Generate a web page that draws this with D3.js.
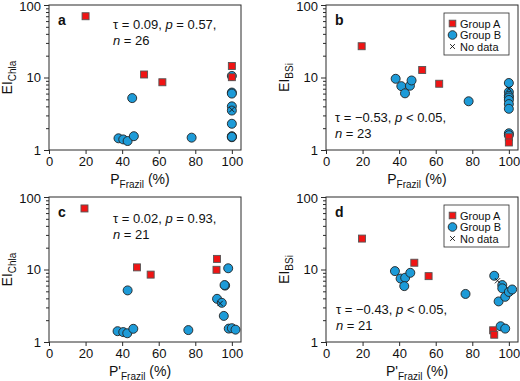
<!DOCTYPE html>
<html><head><meta charset="utf-8">
<script src="https://cdn.jsdelivr.net/npm/d3@7"></script>
<style>body{margin:0;background:#fff} svg{display:block;font-family:"Liberation Sans",Arial,Helvetica,sans-serif}</style>
</head><body><svg id="chart" width="520" height="381"></svg>
<script>
// ---- data ----
const xTicks = [0, 20, 40, 60, 80, 100];
const yTicks = [1, 10, 100];
const yMinorTicks = [2,3,4,5,6,7,8,9,20,30,40,50,60,70,80,90];
const legendLabels = ["Group A", "Group B", "No data"];

// panel a: P_Frazil vs EI_Chla
const aGroupA = [[20,70],[52,11],[62,8.6],[100,14.4],[100,10.1]];
const aGroupB = [[100,10.5],[45.5,5.2],[38,1.45],[40.6,1.40],[43,1.33],[46.4,1.55],[78,1.48],
                 [100,6.2],[100,6.0],[100,4.0],[100,3.5],[100,2.3],[100,1.55],[100,1.5],[100,1.52]];
const aNoData = [[100,3.6]];

// panel b: P_Frazil vs EI_BSi
const bGroupA = [[19.5,27],[52.6,12.7],[61.9,8.2],[100,1.5],[100,1.27]];
const bGroupB = [[38.1,9.6],[41.2,7.6],[43.2,6.05],[45.9,7.7],[46.8,9.1],[78,4.7],
                 [100,8.4],[100,6.3],[100,5.6],[100,5.3],[100,4.9],[100,4.3],[100,3.7],[100,1.7],[100,1.6]];
const bNoData = [[100,7.0]];

// panel c: P'_Frazil vs EI_Chla
const cGroupA = [[19.4,69.5],[48.1,10.7],[55.6,8.5],[91.9,14.0],[91.6,9.9]];
const cGroupB = [[43,5.15],[37.5,1.41],[40.6,1.37],[42.8,1.32],[46.1,1.52],[76.2,1.46],
                 [98,10.4],[96.3,6.0],[96,6.1],[91.9,3.94],[94.5,3.47],[95.6,2.29],[98.3,1.53],[100,1.55],[102,1.48]];
const cNoData = [[93.6,3.4]];

// panel d: P'_Frazil vs EI_BSi
const dGroupA = [[19.7,26.7],[48.3,12.4],[56.1,8.1],[91.4,1.45],[92,1.26]];
const dGroupB = [[37.7,9.5],[40.8,7.5],[43.3,7.7],[42.8,5.9],[46.1,9.0],[76.3,4.6],
                 [92,8.2],[96.4,6.1],[96.4,5.5],[94.4,3.63],[98,4.2],[100,4.9],[101.8,5.3],[95.5,1.65],[98,1.53]];
const dNoData = [[93.8,7.0]];

const statsTau = ["0.09", "\u22120.53", "0.02", "\u22120.43"];
const statsP = ["= 0.57", "< 0.05", "= 0.93", "< 0.05"];
const statsN = ["26", "23", "21", "21"];

// ---- layout ----
const colA = "#f01414", colB = "#1d9bd8";
const W = 192, H = 145;
const panels = [
  {label:"a", left:49, top:5, ySub:"Chla", prime:false, A:aGroupA, B:aGroupB, N:aNoData, s:0, sx:64, sy:24, legend:false},
  {label:"b", left:326, top:5, ySub:"BSi", prime:false, A:bGroupA, B:bGroupB, N:bNoData, s:1, sx:9, sy:117, legend:true},
  {label:"c", left:49, top:197, ySub:"Chla", prime:true, A:cGroupA, B:cGroupB, N:cNoData, s:2, sx:64, sy:26, legend:false},
  {label:"d", left:326, top:197, ySub:"BSi", prime:true, A:dGroupA, B:dGroupB, N:dNoData, s:3, sx:10, sy:117, legend:true}
];

const svg = d3.select("#chart");
const ink = "#2a2a2a";

function drawSquare(g, x, y, s) {
  g.append("rect").attr("x", x - s/2).attr("y", y - s/2).attr("width", s).attr("height", s)
    .attr("fill", colA).attr("stroke", "#555").attr("stroke-width", 0.9);
}
function drawCircle(g, x, y, r) {
  g.append("circle").attr("cx", x).attr("cy", y).attr("r", r)
    .attr("fill", colB).attr("stroke", "#222").attr("stroke-width", 0.9);
}
function drawCross(g, x, y, s) {
  g.append("path").attr("d", `M${x-s},${y-s}L${x+s},${y+s}M${x-s},${y+s}L${x+s},${y-s}`)
    .attr("stroke", "#111").attr("stroke-width", 0.9).attr("fill", "none");
}

panels.forEach(p => {
  const g = svg.append("g").attr("transform", `translate(${p.left},${p.top})`);
  const x = d3.scaleLinear().domain([0, 105]).range([0, W]);
  const y = d3.scaleLog().domain([1, 100]).range([H, 0]);

  // x axis
  const xa = g.append("g").attr("transform", `translate(0,${H})`)
    .call(d3.axisBottom(x).tickValues(xTicks).tickSize(4).tickPadding(3).tickFormat(d3.format("d")));
  xa.select(".domain").remove();
  xa.selectAll("line").attr("stroke", ink);
  xa.selectAll("text").attr("font-size", 13).attr("fill", "#111").attr("font-family", null);

  // y axis major
  const ya = g.append("g")
    .call(d3.axisLeft(y).tickValues(yTicks).tickSize(5).tickPadding(3).tickFormat(d3.format("d")));
  ya.select(".domain").remove();
  ya.selectAll("line").attr("stroke", ink);
  ya.selectAll("text").attr("font-size", 13).attr("fill", "#111").attr("font-family", null)
    .attr("dy", d => d === 100 ? "0.42em" : "0.32em");
  // y minor
  const ym = g.append("g")
    .call(d3.axisLeft(y).tickValues(yMinorTicks).tickSize(3).tickFormat(""));
  ym.select(".domain").remove();
  ym.selectAll("line").attr("stroke", ink);

  // frame
  g.append("rect").attr("width", W).attr("height", H)
    .attr("fill", "none").attr("stroke", ink).attr("stroke-width", 1);

  // points: circles, squares on top, then crosses
  p.B.forEach(d => drawCircle(g, x(d[0]), y(d[1]), 4.5));
  p.A.forEach(d => drawSquare(g, x(d[0]), y(d[1]), 7));
  p.N.forEach(d => drawCross(g, x(d[0]), y(d[1]), 2.6));

  // panel label
  g.append("text").attr("x", 9).attr("y", 20).attr("font-size", 14).attr("font-weight", "bold")
    .attr("fill", "#111").text(p.label);

  // stats
  const t1 = g.append("text").attr("x", p.sx).attr("y", p.sy).attr("font-size", 13).attr("fill", "#111");
  t1.append("tspan").text(`\u03c4 = ${statsTau[p.s]}, `);
  t1.append("tspan").attr("font-style", "italic").text("p");
  t1.append("tspan").text(` ${statsP[p.s]},`);
  const t2 = g.append("text").attr("x", p.sx).attr("y", p.sy + 15.5).attr("font-size", 13).attr("fill", "#111");
  t2.append("tspan").attr("font-style", "italic").text("n");
  t2.append("tspan").text(` = ${statsN[p.s]}`);

  // x label
  const xl = g.append("text").attr("x", W/2 - 5).attr("y", H + 34).attr("text-anchor", "middle")
    .attr("font-size", 14).attr("fill", "#111");
  xl.append("tspan").text(p.prime ? "P'" : "P");
  xl.append("tspan").attr("font-size", 10).attr("dy", 4).text("Frazil");
  xl.append("tspan").attr("dy", -4).text(" (%)");

  // y label
  const yl = g.append("text").attr("transform", `translate(-37,${H/2}) rotate(-90)`)
    .attr("text-anchor", "middle").attr("font-size", 14).attr("fill", "#111");
  yl.append("tspan").text("EI");
  yl.append("tspan").attr("font-size", 10).attr("dy", 4).text(p.ySub);

  // legend
  if (p.legend) {
    const lg = g.append("g").attr("transform", "translate(118,8)");
    lg.append("rect").attr("width", 65).attr("height", 42)
      .attr("fill", "#fff").attr("stroke", ink).attr("stroke-width", 0.8);
    const rows = [10.5, 22, 33.5];
    drawSquare(lg, 8.5, rows[0], 6.6);
    drawCircle(lg, 8.5, rows[1], 4.3);
    drawCross(lg, 8.5, rows[2], 2.4);
    legendLabels.forEach((t, i) => {
      lg.append("text").attr("x", 16).attr("y", rows[i] + 4).attr("font-size", 11)
        .attr("fill", "#111").text(t);
    });
  }
});
</script></body></html>
